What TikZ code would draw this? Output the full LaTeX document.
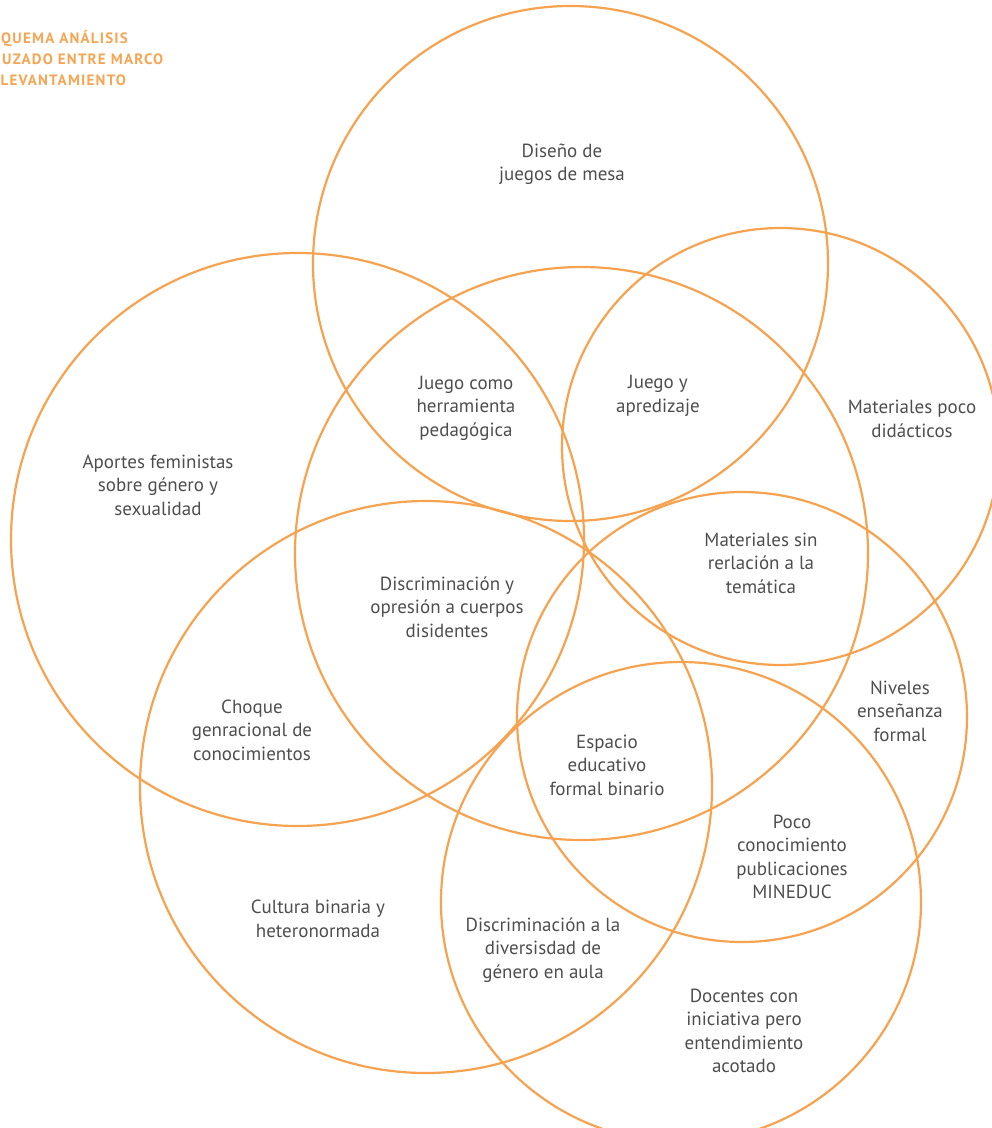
\documentclass[tikz,border=0pt]{standalone}
\usepackage{fontspec}
\setmainfont{PT Sans}
\definecolor{ring}{HTML}{F6A24F}
\definecolor{txtgray}{HTML}{4E4E50}
\definecolor{ttl}{HTML}{F5A553}
\begin{document}
\begin{tikzpicture}[x=1pt,y=-1pt,
  ringline/.style={draw=ring,line width=2.2pt},
  lbl/.style={text=txtgray,align=center,inner sep=0pt,font=\fontsize{19}{23.5}\selectfont},
  ttlline/.style={text=ttl,anchor=base west,inner sep=0pt,font=\fontsize{15}{21}\selectfont\bfseries\addfontfeatures{LetterSpace=8}}]
\useasboundingbox (0,0) rectangle (992,1128);
\clip (0,0) rectangle (992,1128);
% circles
\draw[ringline] (570.5,263.5) circle[radius=257.5pt];
\draw[ringline] (297.5,539.5) circle[radius=286.5pt];
\draw[ringline] (581.5,553.5) circle[radius=286.5pt];
\draw[ringline] (780.5,446.5) circle[radius=218.5pt];
\draw[ringline] (742,717) circle[radius=225pt];
\draw[ringline] (426,787) circle[radius=286pt];
\draw[ringline] (681,902) circle[radius=240pt];
% title
\node[ttlline] (t1) at (1,43) {QUEMA ANÁLISIS};
\node[ttlline] (t2) at (2,64) {UZADO ENTRE MARCO};
\node[ttlline] (t3) at (0.5,85) {LEVANTAMIENTO};
% labels
\node[lbl] (a) at (562,164) {Diseño de\\juegos de mesa};
\node[lbl] (b) at (466,408) {Juego como\\herramienta\\pedagógica};
\node[lbl] (c) at (658,396) {Juego y\\apredizaje};
\node[lbl] (d) at (912,419) {Materiales poco\\didácticos};
\node[lbl] (e) at (158,485) {Aportes feministas\\sobre género y\\sexualidad};
\node[lbl] (f) at (761,563) {Materiales sin\\rerlación a la\\temática};
\node[lbl] (g) at (447,607) {Discriminación y\\opresión a cuerpos\\disidentes};
\node[lbl] (h) at (900,711) {Niveles\\enseñanza\\formal};
\node[lbl] (i) at (252,730) {Choque\\genracional de\\conocimientos};
\node[lbl] (j) at (607,765) {Espacio\\educativo\\formal binario};
\node[lbl] (k) at (792,857) {Poco\\conocimiento\\publicaciones\\MINEDUC};
\node[lbl] (l) at (318,919) {Cultura binaria y\\heteronormada};
\node[lbl] (m) at (543,950) {Discriminación a la\\diversisdad de\\género en aula};
\node[lbl] (n) at (744,1031) {Docentes con\\iniciativa pero\\entendimiento\\acotado};
\end{tikzpicture}
\end{document}
